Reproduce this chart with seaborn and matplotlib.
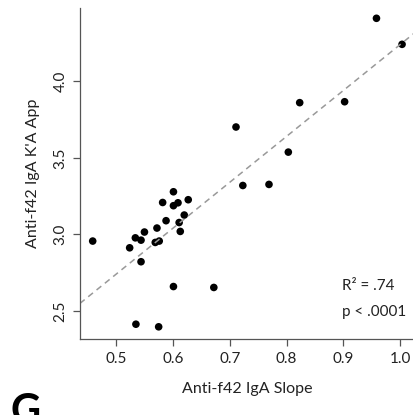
import numpy as np
import pandas as pd
import matplotlib
matplotlib.use('Agg')
import matplotlib.pyplot as plt
import seaborn as sns

# Values
slope = [0.459, 0.524, 0.534, 0.544, 0.550, 0.544, 0.535, 0.575, 0.572, 0.569,
         0.576, 0.582, 0.588, 0.601, 0.601, 0.609, 0.611, 0.613, 0.620, 0.627,
         0.601, 0.672, 0.711, 0.723, 0.769, 0.803, 0.823, 0.902, 0.958, 1.003]
ka_app = [2.957, 2.913, 2.978, 2.963, 3.016, 2.822, 2.414, 2.397, 3.042, 2.948,
          2.957, 3.209, 3.090, 3.279, 3.188, 3.207, 3.078, 3.020, 3.127, 3.227,
          2.660, 2.654, 3.702, 3.320, 3.327, 3.538, 3.861, 3.867, 4.412, 4.242]
x_ticks = [0.5, 0.6, 0.7, 0.8, 0.9, 1.0]
y_ticks = [2.5, 3.0, 3.5, 4.0]

df = pd.DataFrame({'slope': slope, 'ka': ka_app})

sns.set_style('white')
plt.rcParams['font.family'] = ['Lato', 'DejaVu Sans']

fig = plt.figure(figsize=(4.14, 4.15), dpi=100)
ax = fig.add_axes([0.193, 0.183, 0.807, 0.798])
ax.set_xlim(0.4365, 1.024)
ax.set_ylim(2.317, 4.48)

sns.regplot(x='slope', y='ka', data=df, ax=ax, ci=None, truncate=False,
            scatter_kws={'s': 30, 'color': 'black', 'edgecolor': 'none', 'alpha': 1},
            line_kws={'color': '#999999', 'lw': 1.1, 'ls': (0, (4, 3)), 'zorder': 1})
ax.set_xlim(0.4365, 1.024)
ax.set_ylim(2.317, 4.48)

for s in ['top', 'right']:
    ax.spines[s].set_visible(False)
for s in ['left', 'bottom']:
    ax.spines[s].set_color('#555555')
    ax.spines[s].set_linewidth(0.9)

ax.set_xticks(x_ticks)
ax.set_xticklabels(['0.5', '0.6', '0.7', '0.8', '0.9', '1.0'])
ax.set_yticks(y_ticks)
ax.set_yticklabels(['2.5', '3.0', '3.5', '4.0'], rotation=90, va='center')
ax.tick_params(axis='both', direction='out', length=5, width=0.9,
               color='#555555', labelcolor='#222222', labelsize=11, pad=4)
ax.tick_params(axis='both', bottom=True, left=True)

ax.set_xlabel('Anti-f42 IgA Slope', fontsize=11.5, color='#222222', labelpad=12)
ax.set_ylabel("Anti-f42 IgA K'A App", fontsize=11.5, color='#222222', labelpad=10)

ax.text(0.898, 2.665, 'R² = .74', fontsize=11, color='#222222', va='center')
ax.text(0.898, 2.495, 'p < .0001', fontsize=11, color='#222222', va='center')

fig.text(0.025, -0.022, 'G', fontsize=30, fontweight='bold', color='black')

fig.savefig('out.png', dpi=100)
